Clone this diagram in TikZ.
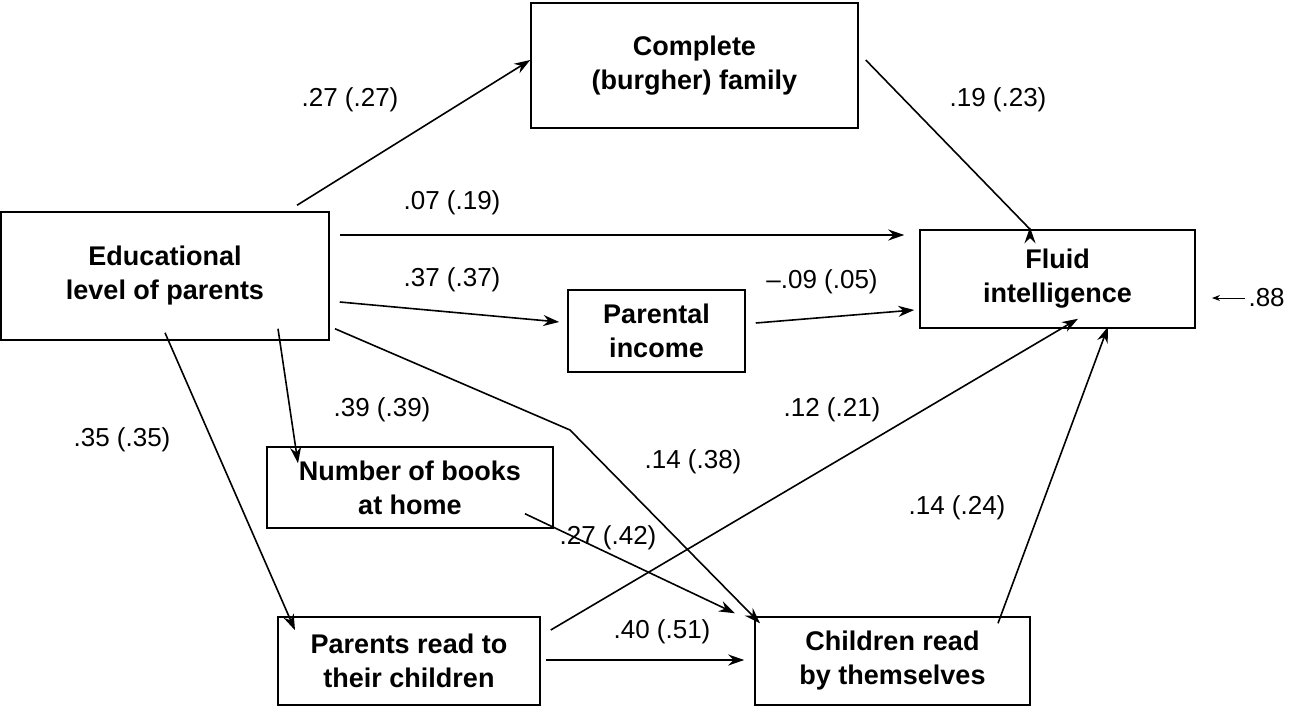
\documentclass[tikz,border=0pt]{standalone}
\usepackage{fontspec}
\setmainfont{Liberation Sans}
\usetikzlibrary{arrows.meta}
\begin{document}
\begin{tikzpicture}[x=1pt,y=-1pt,
 box/.style={draw,line width=1.5pt,align=center,font=\fontsize{27}{34}\selectfont\bfseries,inner sep=0pt},
 lab/.style={font=\fontsize{26}{30}\selectfont},
 arr/.style={line width=1.6pt,-{Stealth[length=16pt,width=11pt]}}]
\useasboundingbox (0,0) rectangle (1303,715);
\node[box,minimum width=327,minimum height=125] (cf) at (694.5,65.5) {Complete\\(burgher) family};
\node[box,minimum width=328,minimum height=128] (ed) at (165,276) {Educational\\level of parents};
\node[box,minimum width=275,minimum height=98] (fi) at (1057.5,279) {Fluid\\intelligence};
\node[box,minimum width=177,minimum height=82] (pi) at (656.5,331) {Parental\\income};
\node[box,minimum width=286,minimum height=81] (nb) at (410,487.5) {Number of books\\at home};
\node[box,minimum width=262,minimum height=88] (pr) at (409,661) {Parents read to\\their children};
\node[box,minimum width=275,minimum height=88] (cr) at (892.5,661) {Children read\\by themselves};
\coordinate (k1) at (570,430);
\coordinate (e88) at (1245,298);
\draw[arr] (ed.north -| 297,0) ++(0,-6) -- (cf.west |- 0,60);
\draw[arr] (cf.east |- 0,60) ++(7,0) -- (fi.north -| 1030,0) ++(0,-2);
\draw[arr] ([xshift=10pt]ed.east |- 0,235) -- ([xshift=-15pt]fi.west |- 0,235);
\draw[arr] ([xshift=10pt]ed.east |- 0,302) -- ([xshift=-8pt]pi.west |- 0,322);
\draw[arr] ([xshift=10pt]pi.east |- 0,323) -- ([xshift=-5pt]fi.west |- 0,310);
\draw[arr] ([yshift=12pt]ed.south -| 278,0) -- ([yshift=-17pt]nb.north -| 298,0);
\draw[arr] ([yshift=8pt]ed.south -| 165,0) -- ([yshift=-14pt]pr.north -| 295,0);
\draw[arr] ([yshift=12pt]ed.south -| 335,0) -- (k1) -- ([yshift=-7pt]cr.north -| 760,0);
\draw[arr] ([yshift=15pt]nb.south -| 525,0) -- ([yshift=3pt]cr.north -| 735,0);
\draw[arr] ([xshift=10pt]pr.east |- 0,630) -- ([yshift=10pt]fi.south -| 1078,0);
\draw[arr] ([xshift=5pt]pr.east |- 0,660) -- ([xshift=-10pt]cr.west |- 0,660);
\draw[arr] ([yshift=-7pt]cr.north -| 998,0) -- ([yshift=2pt]fi.south -| 1108,0);
\draw[line width=1pt,-{Stealth[length=8pt,width=6pt]}] (e88) -- (1212,298);
\node[lab,anchor=west] (l88) at (e88) {.88};
\node[lab] (a1) at (350,100) {.27 (.27)};
\node[lab] (a2) at (998,100) {.19 (.23)};
\node[lab] (a3) at (452,203) {.07 (.19)};
\node[lab] (a4) at (452,280) {.37 (.37)};
\node[lab] (a5) at (822,282) {--.09 (.05)};
\node[lab] (a6) at (382,410) {.39 (.39)};
\node[lab] (a7) at (122,440) {.35 (.35)};
\node[lab] (a8) at (693,462) {.14 (.38)};
\node[lab] (a9) at (608,538) {.27 (.42)};
\node[lab] (a10) at (832,410) {.12 (.21)};
\node[lab] (a11) at (662,632) {.40 (.51)};
\node[lab] (a12) at (957,508) {.14 (.24)};
\end{tikzpicture}
\end{document}
